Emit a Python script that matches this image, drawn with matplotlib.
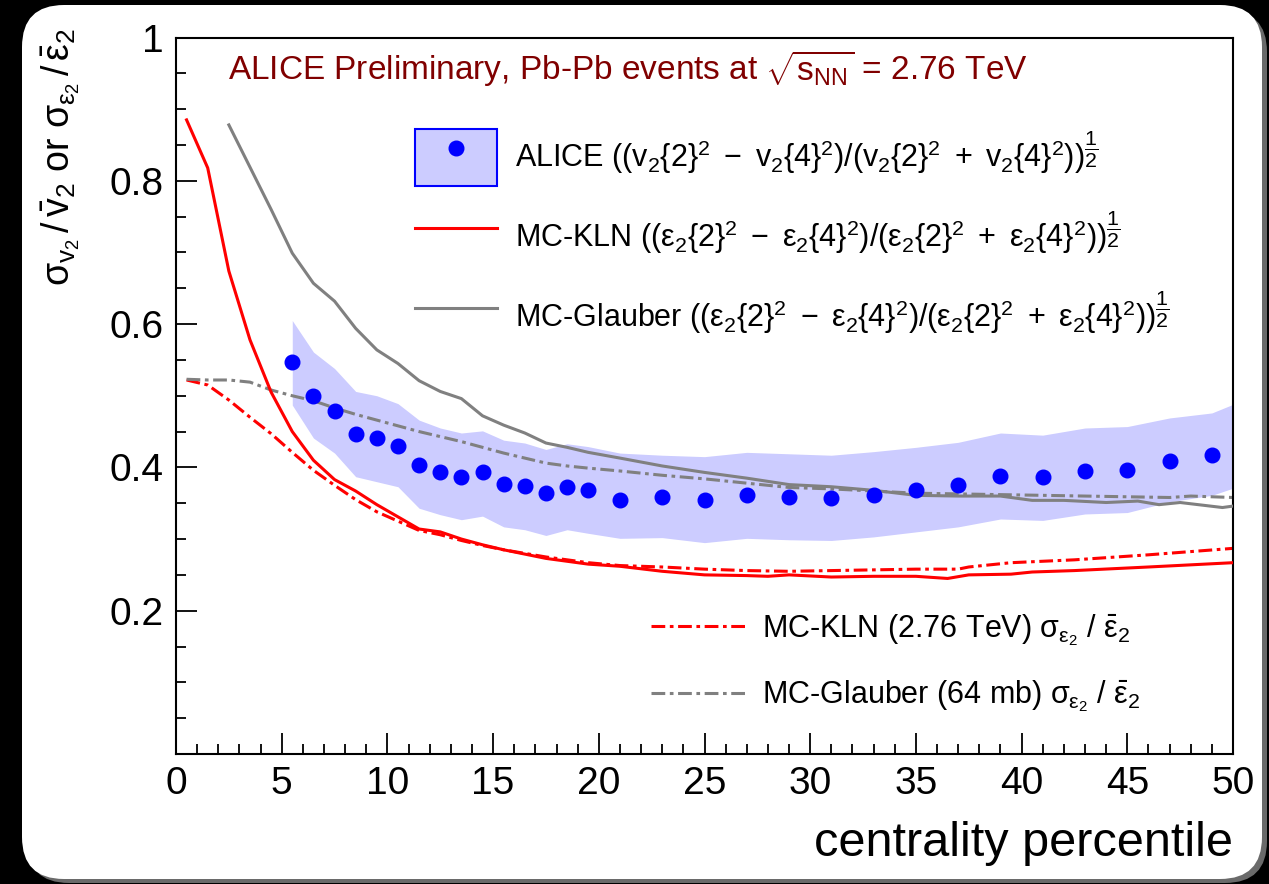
import numpy as np
import matplotlib
matplotlib.use('Agg')
import matplotlib.pyplot as plt
import matplotlib.transforms as mtransforms
from matplotlib.patches import FancyBboxPatch, Patch
from matplotlib.lines import Line2D
from matplotlib.ticker import MultipleLocator, FixedLocator, FixedFormatter

plt.rcParams['font.family'] = ['Liberation Sans', 'DejaVu Sans']
plt.rcParams['mathtext.fontset'] = 'custom'
plt.rcParams['mathtext.rm'] = 'Liberation Sans'
plt.rcParams['mathtext.it'] = 'Liberation Sans'
plt.rcParams['mathtext.bf'] = 'Liberation Sans:bold'

# ALICE data points and systematic band
alice_x = [5.5, 6.5, 7.5, 8.5, 9.5, 10.5, 11.5, 12.5, 13.5, 14.5, 15.5, 16.5, 17.5, 18.5, 19.5,
           21, 23, 25, 27, 29, 31, 33, 35, 37, 39, 41, 43, 45, 47, 49]
alice_y = [0.547, 0.500, 0.479, 0.446, 0.441, 0.430, 0.403, 0.394, 0.386, 0.394, 0.377, 0.374,
           0.364, 0.373, 0.369, 0.354, 0.358, 0.355, 0.361, 0.359, 0.357, 0.361, 0.369, 0.375,
           0.388, 0.386, 0.395, 0.397, 0.409, 0.417]
band_x = alice_x + [50]
band_hi = [0.605, 0.561, 0.538, 0.506, 0.500, 0.489, 0.466, 0.455, 0.448, 0.451, 0.438, 0.434,
           0.425, 0.433, 0.429, 0.420, 0.417, 0.415, 0.421, 0.419, 0.417, 0.422, 0.428, 0.435,
           0.448, 0.445, 0.455, 0.457, 0.469, 0.476, 0.488]
band_lo = [0.487, 0.441, 0.420, 0.387, 0.380, 0.373, 0.343, 0.334, 0.327, 0.332, 0.317, 0.313,
           0.305, 0.313, 0.308, 0.301, 0.302, 0.295, 0.301, 0.299, 0.298, 0.303, 0.310, 0.317,
           0.328, 0.326, 0.335, 0.337, 0.352, 0.361, 0.371]

# MC-KLN ((e2{2}^2-e2{4}^2)/(e2{2}^2+e2{4}^2))^1/2
kln_x = [0.5, 1.5, 2.5, 3.5, 4.5, 5.5, 6.5, 7.5, 8.5, 9.5, 10.5, 11.5, 12.5, 13.5, 14.5, 15.5,
         16.5, 17.5, 18.5, 19.5, 21, 23, 25, 27, 28, 29, 31, 33, 35, 36.5, 37.5, 39.5, 40.5,
         42.5, 46, 50]
kln_y = [0.885, 0.818, 0.674, 0.578, 0.505, 0.450, 0.410, 0.383, 0.367, 0.348, 0.331, 0.314,
         0.310, 0.300, 0.292, 0.285, 0.279, 0.273, 0.269, 0.265, 0.262, 0.255, 0.250, 0.249,
         0.248, 0.250, 0.247, 0.248, 0.248, 0.245, 0.250, 0.251, 0.254, 0.256, 0.261, 0.267]

# MC-KLN sigma/mean
klns_x = [0.5, 1.5, 2.5, 3.5, 4.5, 5.5, 6.5, 7.5, 8.5, 9.5, 10.5, 11.5, 12.5, 13.5, 14.5, 15.5,
          17.5, 19.5, 21, 23, 25, 27, 29, 31, 33, 35, 37, 37.5, 39.5, 42.5, 46, 50]
klns_y = [0.522, 0.515, 0.494, 0.470, 0.447, 0.421, 0.396, 0.375, 0.355, 0.338, 0.325, 0.312,
          0.306, 0.298, 0.291, 0.285, 0.275, 0.267, 0.263, 0.261, 0.258, 0.256, 0.255, 0.256,
          0.257, 0.258, 0.258, 0.261, 0.267, 0.271, 0.278, 0.287]

# MC-Glauber ratio
glb_x = [2.5, 3.5, 4.5, 5.5, 6.5, 7.5, 8.5, 9.5, 10.5, 11.5, 12.5, 13.5, 14.5, 15.5, 16.5, 17.5,
         18.5, 19.5, 21, 23, 25, 27, 29, 31, 33, 35, 37, 39, 40.5, 42, 44, 45.5, 46.5, 47.5,
         49.5, 50]
glb_y = [0.878, 0.819, 0.760, 0.699, 0.657, 0.632, 0.594, 0.564, 0.545, 0.521, 0.506, 0.496,
         0.472, 0.459, 0.448, 0.434, 0.428, 0.421, 0.413, 0.402, 0.393, 0.385, 0.376, 0.373,
         0.368, 0.361, 0.360, 0.360, 0.354, 0.354, 0.351, 0.353, 0.348, 0.351, 0.344, 0.346]

# MC-Glauber sigma/mean
glbs_x = [0.5, 1.5, 2.5, 3.5, 4.5, 5.5, 6.5, 7.5, 8.5, 9.5, 10.5, 11.5, 12.5, 13.5, 14.5, 15.5,
          16.5, 17.5, 18.5, 19.5, 21, 23, 25, 27, 29, 31, 33, 35, 37, 39, 41, 43, 45, 47, 48, 50]
glbs_y = [0.523, 0.522, 0.522, 0.519, 0.508, 0.500, 0.493, 0.483, 0.474, 0.466, 0.458, 0.450,
          0.443, 0.436, 0.428, 0.420, 0.413, 0.406, 0.402, 0.399, 0.395, 0.389, 0.384, 0.378,
          0.372, 0.370, 0.367, 0.364, 0.363, 0.362, 0.361, 0.360, 0.359, 0.358, 0.360, 0.358]

y_ticks = [0.0, 0.2, 0.4, 0.6, 0.8, 1.0]
y_ticklabels = ['', '0.2', '0.4', '0.6', '0.8', '1']

W, H = 1269, 884
fig = plt.figure(figsize=(W / 100, H / 100), dpi=100, facecolor='black')

# rounded white panel with a little shadow
ident = mtransforms.IdentityTransform()
shadow = FancyBboxPatch((27, 1), 1240, 873, boxstyle='round,pad=0,rounding_size=42',
                        transform=ident, fc='#6a6a6a', ec='none', zorder=-11)
panel = FancyBboxPatch((22, 5), 1240, 874, boxstyle='round,pad=0,rounding_size=42',
                       transform=ident, fc='white', ec='none', zorder=-10)
fig.add_artist(shadow)
fig.add_artist(panel)

ax = fig.add_axes([176 / W, 130 / H, 1057 / W, 716.5 / H])
ax.set_facecolor('white')

blue = '#0000ff'
band_col = '#ccccff'
red = '#ff0000'
gray = '#808080'
dd = (4.5, 1.5, 1.2, 1.5)

ax.fill_between(band_x, band_lo, band_hi, color=band_col, lw=0, zorder=1)
ax.plot(klns_x, klns_y, color=red, lw=2.2, dashes=dd, zorder=2)
ax.plot(glbs_x, glbs_y, color=gray, lw=2.2, dashes=dd, zorder=2)
ax.plot(kln_x, kln_y, color=red, lw=2.2, zorder=3)
ax.plot(glb_x, glb_y, color=gray, lw=2.2, zorder=3)
ax.plot(alice_x, alice_y, 'o', color=blue, ms=10.5, mec=blue, zorder=4)

ax.set_xlim(0, 50)
ax.set_ylim(0, 1)
ax.xaxis.set_major_locator(MultipleLocator(5))
ax.xaxis.set_minor_locator(MultipleLocator(1))
ax.yaxis.set_major_locator(FixedLocator(y_ticks))
ax.yaxis.set_major_formatter(FixedFormatter(y_ticklabels))
ax.yaxis.set_minor_locator(MultipleLocator(0.05))
ax.tick_params(which='both', direction='in', top=False, right=False, width=1.3)
ax.tick_params(which='major', length=15, labelsize=28, pad=9)
ax.tick_params(which='minor', length=7.5)
for s in ax.spines.values():
    s.set_linewidth(1.5)

ax.set_xlabel('centrality percentile', fontsize=35, loc='right', labelpad=13)
fig.text(61 / W, 1 - 28 / H,
         r'$\sigma_{v_2}\,/\,\bar{v}_2$ or $\sigma_{\varepsilon_2}\,/\,\bar{\varepsilon}_2$',
         rotation=90, ha='center', va='top', fontsize=27)

ax.text(2.46, 0.94, r'ALICE Preliminary, Pb-Pb events at $\sqrt{s_{\rm NN}}$ = 2.76 TeV',
        fontsize=24, color='#800000', va='baseline')

# legends
h_alice = (Patch(fc=band_col, ec=blue, lw=1.5),
           Line2D([], [], ls='none', marker='o', color=blue, ms=10.5))
h_kln = Line2D([], [], color=red, lw=2.2)
h_glb = Line2D([], [], color=gray, lw=2.2)
lab_alice = r'ALICE $((v_2\{2\}^2\ -\ v_2\{4\}^2)/(v_2\{2\}^2\ +\ v_2\{4\}^2))^{\dfrac{1}{2}}$'
lab_kln = (r'MC-KLN $((\varepsilon_2\{2\}^2\ -\ \varepsilon_2\{4\}^2)/'
           r'(\varepsilon_2\{2\}^2\ +\ \varepsilon_2\{4\}^2))^{\dfrac{1}{2}}$')
lab_glb = (r'MC-Glauber $((\varepsilon_2\{2\}^2\ -\ \varepsilon_2\{4\}^2)/'
           r'(\varepsilon_2\{2\}^2\ +\ \varepsilon_2\{4\}^2))^{\dfrac{1}{2}}$')
leg1 = ax.legend([h_alice, h_kln, h_glb], [lab_alice, lab_kln, lab_glb],
                 loc='upper left', bbox_to_anchor=((415 - 176) / 1057, (754 - 128) / 716.5),
                 frameon=False, fontsize=22, handlelength=2.68, handleheight=2.49,
                 handletextpad=0.6, labelspacing=0.72, borderpad=0, borderaxespad=0)
ax.add_artist(leg1)

h_klns = Line2D([], [], color=red, lw=2.2, dashes=dd)
h_glbs = Line2D([], [], color=gray, lw=2.2, dashes=dd)
lab_klns = r'MC-KLN (2.76 TeV) $\sigma_{\varepsilon_2}$ / $\bar{\varepsilon}_2$'
lab_glbs = r'MC-Glauber (64 mb) $\sigma_{\varepsilon_2}$ / $\bar{\varepsilon}_2$'
ax.legend([h_klns, h_glbs], [lab_klns, lab_glbs],
          loc='upper left', bbox_to_anchor=((651 - 176) / 1057, (754 - 612) / 716.5),
          frameon=False, fontsize=22, handlelength=3.08, handletextpad=0.55,
          labelspacing=1.0, borderpad=0, borderaxespad=0)

fig.savefig('out.png', dpi=100, facecolor='black')
